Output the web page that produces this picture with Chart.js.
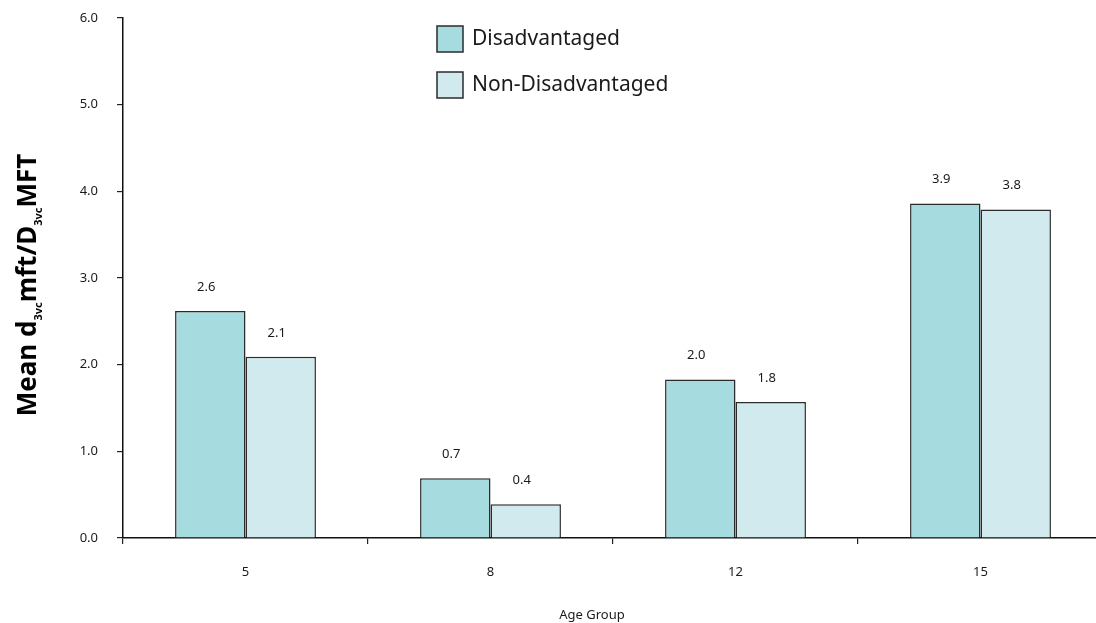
<!DOCTYPE html>
<html>
<head>
<meta charset="utf-8">
<script src="https://cdn.jsdelivr.net/npm/chart.js@4.4.1/dist/chart.umd.min.js"></script>
<style>
    html, body { margin: 0; padding: 0; background: #fff; overflow: hidden; }
    #wrap { width: 1110px; height: 623px; position: relative; }
</style>
</head>
<body>
<div id="wrap"><canvas id="chart"></canvas></div>
<script>
// ============================
// DATA
// ============================
const ageGroups = ["5", "8", "12", "15"];
const seriesNames = ["Disadvantaged", "Non-Disadvantaged"];
const disadvantaged = [2.62, 0.69, 1.83, 3.86];
const nonDisadvantaged = [2.09, 0.39, 1.57, 3.79];
// printed labels above the bars (as shown in the source)
const disadvantagedLabels = ["2.6", "0.7", "2.0", "3.9"];
const nonDisadvantagedLabels = ["2.1", "0.4", "1.8", "3.8"];
const yTicks = [0, 1, 2, 3, 4, 5, 6];

const FONT = "'Noto Sans', sans-serif";
const INK = "#1a1a1a";

// ============================
// PLUGIN: value labels, axis titles, legend
// ============================
const decorations = {
    id: "decorations",
    afterDatasetsDraw(chart) {
        const ctx = chart.ctx;
        const labelSets = [disadvantagedLabels, nonDisadvantagedLabels];

        // value labels above bars
        ctx.save();
        ctx.font = "13px " + FONT;
        ctx.fillStyle = INK;
        ctx.textAlign = "center";
        ctx.textBaseline = "middle";
        chart.data.datasets.forEach((ds, i) => {
            chart.getDatasetMeta(i).data.forEach((bar, j) => {
                ctx.fillText(labelSets[i][j], bar.x - 4, bar.y - 24);
            });
        });
        ctx.restore();

        // y axis title with subscripts
        const parts = [
            { t: "Mean d", sub: false },
            { t: "3vc", sub: true },
            { t: "mft/D", sub: false },
            { t: "3vc", sub: true },
            { t: "MFT", sub: false }
        ];
        const bigFont = "bold 26px " + FONT;
        const smallFont = "bold 11px " + FONT;
        ctx.save();
        let total = 0;
        parts.forEach(p => {
            ctx.font = p.sub ? smallFont : bigFont;
            p.w = ctx.measureText(p.t).width;
            total += p.w;
        });
        ctx.translate(36, 285);
        ctx.rotate(-Math.PI / 2);
        ctx.fillStyle = "#000";
        ctx.textBaseline = "alphabetic";
        ctx.textAlign = "left";
        let x = -total / 2;
        parts.forEach(p => {
            ctx.font = p.sub ? smallFont : bigFont;
            ctx.fillText(p.t, x, p.sub ? 6 : 0);
            x += p.w;
        });
        ctx.restore();

        // x axis title
        ctx.save();
        ctx.font = "13px " + FONT;
        ctx.fillStyle = INK;
        ctx.textAlign = "center";
        ctx.textBaseline = "middle";
        ctx.fillText("Age Group", 592, 615);
        ctx.restore();

        // legend
        ctx.save();
        chart.data.datasets.forEach((ds, i) => {
            const top = 26 + i * 46;
            ctx.fillStyle = ds.backgroundColor;
            ctx.fillRect(437, top, 26, 26);
            ctx.lineWidth = 1.5;
            ctx.strokeStyle = "#2b2b2b";
            ctx.strokeRect(437, top, 26, 26);
            ctx.font = "21px " + FONT;
            ctx.fillStyle = INK;
            ctx.textAlign = "left";
            ctx.textBaseline = "middle";
            ctx.fillText(ds.label, 472, top + 13);
        });
        ctx.restore();
    }
};

// ============================
// CHART
// ============================
const ctx = document.getElementById("chart");

new Chart(ctx, {
    type: "bar",
    data: {
        labels: ageGroups,
        datasets: [
            {
                label: seriesNames[0],
                data: disadvantaged,
                backgroundColor: "#a6dbe0",
                borderColor: "#2b2b2b",
                borderWidth: 1.5
            },
            {
                label: seriesNames[1],
                data: nonDisadvantaged,
                backgroundColor: "#d0eaed",
                borderColor: "#2b2b2b",
                borderWidth: 1.5
            }
        ]
    },
    options: {
        responsive: true,
        maintainAspectRatio: false,
        animation: false,
        layout: {
            padding: { top: 18, right: 7, bottom: 0, left: 0 }
        },
        plugins: {
            legend: { display: false },
            tooltip: { enabled: false }
        },
        datasets: {
            bar: {
                categoryPercentage: 0.575,
                barPercentage: 1
            }
        },
        scales: {
            x: {
                afterFit: scale => {
                    scale.height = 85;
                    scale.paddingLeft = 0;
                    scale.paddingRight = 0;
                },
                grid: {
                    drawOnChartArea: false,
                    drawTicks: true,
                    tickLength: 6,
                    color: "#222",
                    lineWidth: 1.2
                },
                border: { color: "#111", width: 1.5 },
                ticks: {
                    color: INK,
                    padding: 20,
                    font: { family: FONT, size: 13 }
                }
            },
            y: {
                min: yTicks[0],
                max: yTicks[yTicks.length - 1],
                afterFit: scale => {
                    scale.width = 123;
                    scale.paddingTop = 0;
                    scale.paddingBottom = 0;
                },
                afterBuildTicks: scale => {
                    scale.ticks = yTicks.map(v => ({ value: v }));
                },
                grid: {
                    drawOnChartArea: false,
                    drawTicks: true,
                    tickLength: 6,
                    color: "#222",
                    lineWidth: 1.2
                },
                border: { color: "#111", width: 1.5 },
                ticks: {
                    color: INK,
                    padding: 19,
                    font: { family: FONT, size: 13 },
                    callback: v => Number(v).toFixed(1)
                }
            }
        }
    },
    plugins: [decorations]
});
</script>
</body>
</html>
